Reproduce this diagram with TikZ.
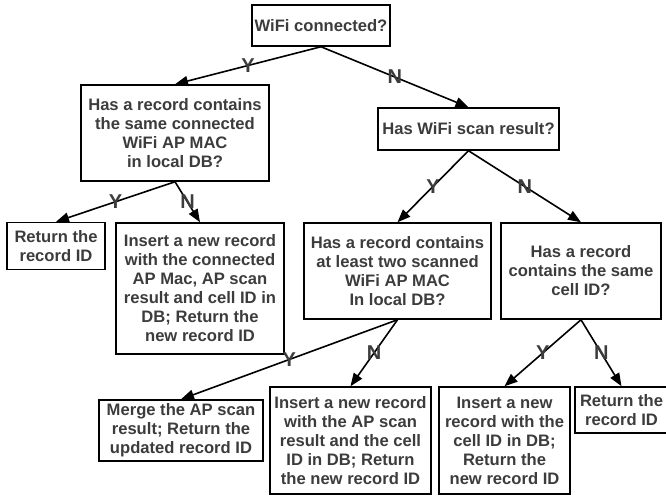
\documentclass[tikz,border=0pt]{standalone}
\usepackage{fontspec}
\setmainfont{Liberation Sans}
\usetikzlibrary{arrows.meta}
\usetikzlibrary{positioning}
\definecolor{txtgray}{HTML}{3C3C3C}

\begin{document}
\begin{tikzpicture}[x=1pt, y=-1pt, thick,
    box/.style={draw, line width=1.5pt, align=center, inner sep=0pt, text=txtgray,
        font=\fontsize{16.6}{19}\selectfont\bfseries},
    yn/.style={text=txtgray, inner sep=0pt, font=\fontsize{20}{20}\selectfont\bfseries},
    flow/.style={-{Triangle[length=13pt, width=10pt]}, line width=1.6pt}]
    \useasboundingbox (0, 0) rectangle (666, 496);

    \node[box, minimum width=138pt, minimum height=41pt] (wifi) at (321, 25.5) {WiFi connected?};
    \node[box, minimum width=188pt, minimum height=96pt] (recmac) at (175, 133) {Has a record contains\\the same connected\\WiFi AP MAC\\in local DB?};
    \node[box, minimum width=181pt, minimum height=42pt] (scan) at (468.5, 129) {Has WiFi scan result?};
    \node[box, minimum width=98pt, minimum height=47pt] (retmac) at (56, 246) {Return the\\record ID};
    \node[box, minimum width=168pt, minimum height=131pt] (insmac) at (200, 288.5) {Insert a new record\\with the connected\\AP Mac, AP scan\\result and cell ID in\\DB; Return the\\new record ID};
    \node[box, minimum width=187pt, minimum height=96pt] (rectwo) at (397.5, 271) {Has a record contains\\at least two scanned\\WiFi AP MAC\\In local DB?};
    \node[box, minimum width=160pt, minimum height=96pt] (reccell) at (581, 271) {Has a record\\contains the same\\cell ID?};
    \node[box, minimum width=164pt, minimum height=61pt] (merge) at (181, 430.5) {Merge the AP scan\\result; Return the\\updated record ID};
    \node[box, minimum width=161pt, minimum height=107pt] (insscan) at (350.5, 440.5) {Insert a new record\\with the AP scan\\result and the cell\\ID in DB; Return\\the new record ID};
    \node[box, minimum width=131pt, minimum height=107pt] (inscell) at (504.5, 440.5) {Insert a new\\record with the\\cell ID in DB;\\Return the\\new record ID};
    \node[box, minimum width=93pt, minimum height=46pt] (retcell) at (621.5, 410) {Return the\\record ID};

    \draw [flow] (wifi.south) --node[yn]{Y} (recmac.north);
    \draw [flow] (wifi.south) --node[yn]{N} (scan.north);
    \draw [flow] (recmac.south) --node[yn]{Y} (retmac.north);
    \draw [flow] (recmac.south) --node[yn]{N} (insmac.north);
    \draw [flow] (scan.south) --node[yn]{Y} (rectwo.north);
    \draw [flow] (scan.south) --node[yn]{N} (reccell.north);
    \draw [flow] (rectwo.south) --node[yn]{Y} (merge.north);
    \draw [flow] (rectwo.south) --node[yn]{N} (insscan.north);
    \draw [flow] (reccell.south) --node[yn]{Y} (inscell.north);
    \draw [flow] (reccell.south) --node[yn]{N} (retcell.north);
\end{tikzpicture}
\end{document}
